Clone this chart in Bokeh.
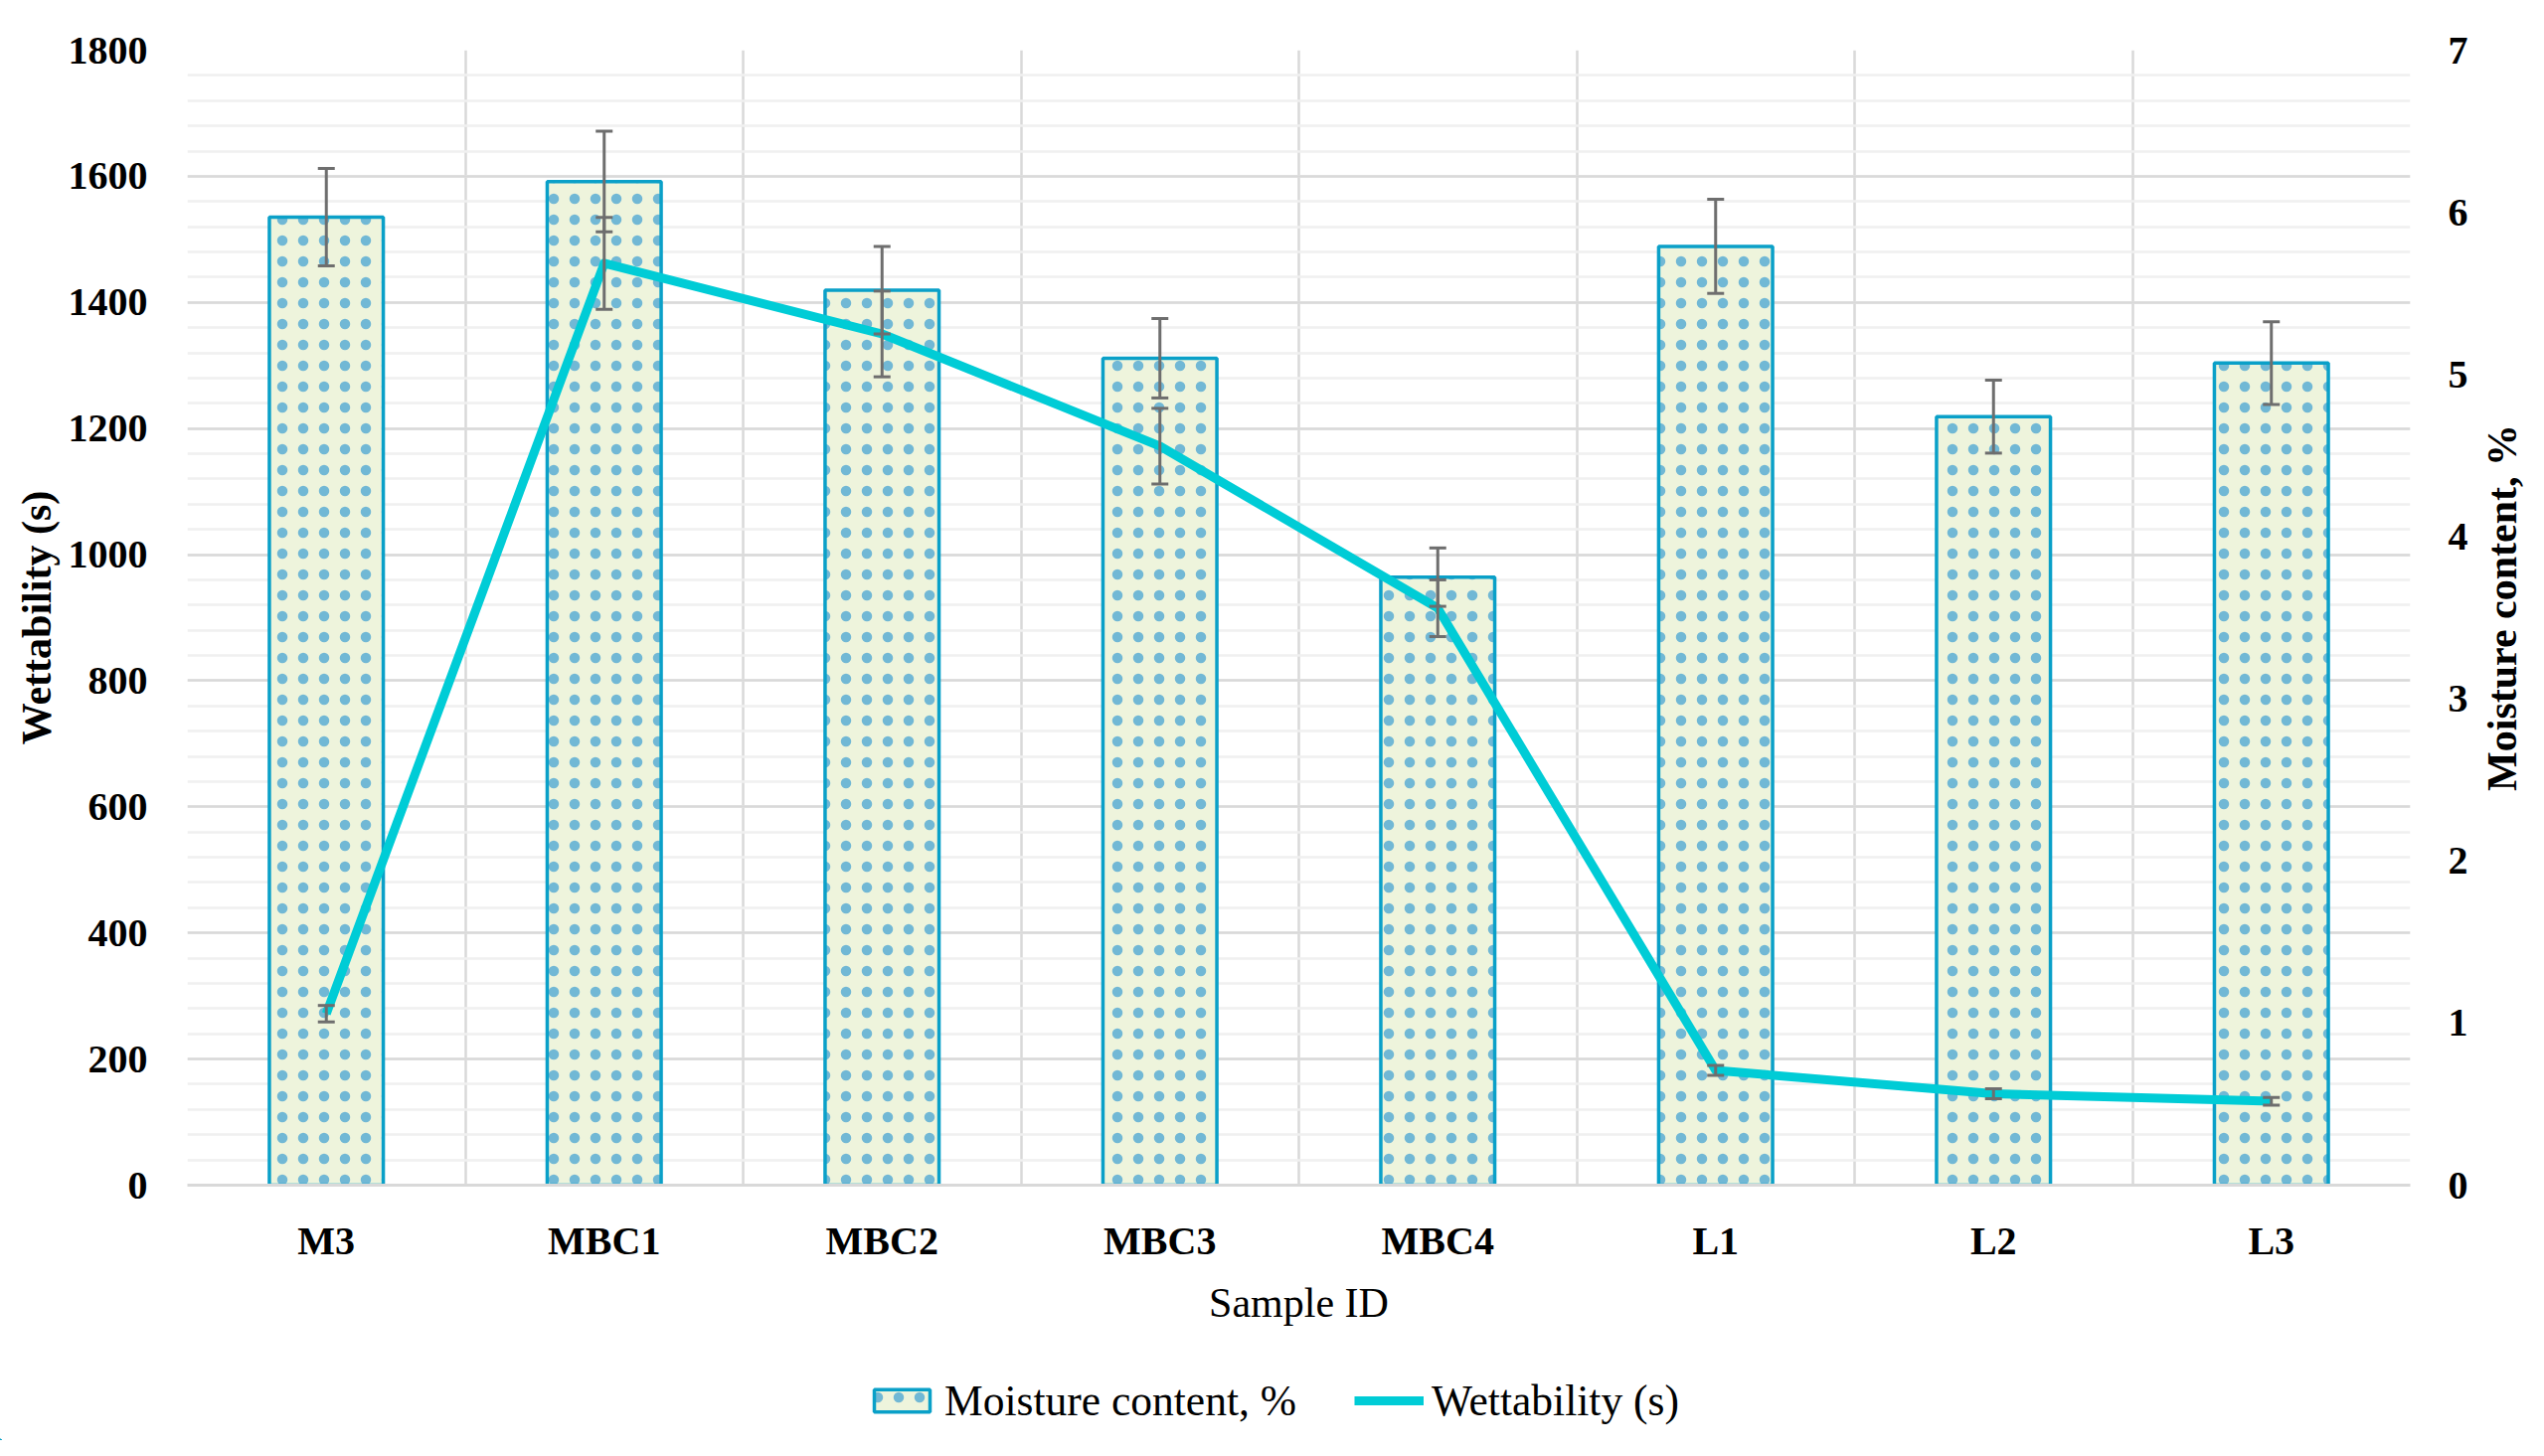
import math
from bokeh.plotting import figure
from bokeh.layouts import row, column
from bokeh.models import (Range1d, LinearAxis, FixedTicker, ColumnDataSource,
                          Whisker, TeeHead, Legend, LegendItem)
from bokeh.core.properties import value
from bokeh.embed import file_html
from bokeh.resources import INLINE

# ---- data ----
categories = ["M3", "MBC1", "MBC2", "MBC3", "MBC4", "L1", "L2", "L3"]
moisture = [5.97, 6.19, 5.52, 5.10, 3.75, 5.79, 4.74, 5.07]          # %, right axis (bars)
moisture_err = [0.30, 0.31, 0.27, 0.245, 0.18, 0.29, 0.225, 0.255]
wettability = [272, 1462, 1350, 1172, 915, 182, 145, 133]            # s, left axis (line)
wettability_err = [13, 73, 68, 60, 45, 8, 8, 6]
wett_ticks = list(range(0, 1801, 200))
wett_minor = list(range(0, 1801, 40))
moist_ticks = list(range(0, 8))
right_title = "Moisture content, %"
legend_labels = ["Moisture content, %", "Wettability (s)"]

FONT = "Liberation Serif"
H_TOP, H_LEG = 1360, 89
W_MAIN, W_SIDE = 2486, 57

BAR_STYLE = dict(fill_color="#EEF4DC", line_color="#0AA0C8", line_width=3.5,
                 hatch_pattern=".", hatch_color="#1E8FD0", hatch_scale=21,
                 hatch_weight=0.6, hatch_alpha=0.6)
LINE_STYLE = dict(line_color="#00CCD6", line_width=9, line_join="round")

p = figure(width=W_MAIN, height=H_TOP, output_backend="svg", toolbar_location=None,
           x_range=Range1d(0, len(categories)), y_range=Range1d(0, 1800),
           min_border_left=188, min_border_right=62,
           min_border_top=50, min_border_bottom=H_TOP - 1192)
p.extra_y_ranges = {"moist": Range1d(0, 7)}
p.outline_line_color = None
p.background_fill_color = "white"
p.border_fill_color = "white"

xs = [i + 0.5 for i in range(len(categories))]

# ---- grids ----
p.yaxis.ticker = FixedTicker(ticks=wett_ticks, minor_ticks=wett_minor)
p.ygrid.grid_line_color = "#d9d9d9"
p.ygrid.grid_line_width = 2.5
p.ygrid.minor_grid_line_color = "#f0f0f0"
p.ygrid.minor_grid_line_width = 2.5
p.xgrid.ticker = FixedTicker(ticks=list(range(0, len(categories) + 1)))
p.xgrid.grid_line_color = "#d9d9d9"
p.xgrid.grid_line_width = 2.5

# ---- axes ----
p.xaxis.ticker = FixedTicker(ticks=xs)
p.xaxis.major_label_overrides = {x: c for x, c in zip(xs, categories)}
p.xaxis.axis_label = "Sample ID"
p.yaxis.axis_label = "Wettability (s)"

ax_r = LinearAxis(y_range_name="moist", ticker=FixedTicker(ticks=moist_ticks))
p.add_layout(ax_r, "right")

for ax in [p.xaxis[0], p.yaxis[0], ax_r]:
    ax.major_tick_line_color = None
    ax.minor_tick_line_color = None
    ax.major_tick_out = 0
    ax.major_tick_in = 0
    ax.minor_tick_out = 0
    ax.minor_tick_in = 0
    ax.major_label_text_font = FONT
    ax.major_label_text_font_size = "40px"
    ax.major_label_text_font_style = "bold"
    ax.major_label_text_color = "black"
    ax.axis_label_text_font = FONT
    ax.axis_label_text_font_size = "42px"
    ax.axis_label_text_font_style = "bold"
    ax.axis_label_text_color = "black"

p.xaxis.axis_label_text_font_style = "normal"
p.xaxis.axis_line_color = "#d9d9d9"
p.xaxis.axis_line_width = 3
p.xaxis.major_label_standoff = 33
p.xaxis.axis_label_standoff = 14
p.yaxis.axis_line_color = None
p.yaxis.major_label_standoff = 40
p.yaxis.axis_label_standoff = 6
ax_r.axis_line_color = None
ax_r.major_label_standoff = 38

# ---- bars (moisture, right axis) ----
bars = p.vbar(x=xs, top=moisture, bottom=0, width=0.41, y_range_name="moist",
              **BAR_STYLE)

# ---- line (wettability, left axis) ----
line = p.line(x=xs, y=wettability, **LINE_STYLE)

# ---- error bars ----
src_m = ColumnDataSource(dict(
    x=xs,
    upper=[m + e for m, e in zip(moisture, moisture_err)],
    lower=[m - e for m, e in zip(moisture, moisture_err)]))
src_w = ColumnDataSource(dict(
    x=xs,
    upper=[w + e for w, e in zip(wettability, wettability_err)],
    lower=[w - e for w, e in zip(wettability, wettability_err)]))

ERR_C = "#6e6e6e"
for src, rname in [(src_m, "moist"), (src_w, "default")]:
    wk = Whisker(source=src, base="x", upper="upper", lower="lower",
                 dimension="height", y_range_name=rname, level="overlay",
                 line_color=ERR_C, line_width=3,
                 upper_head=TeeHead(size=17, line_color=ERR_C, line_width=3),
                 lower_head=TeeHead(size=17, line_color=ERR_C, line_width=3))
    p.add_layout(wk)

# ---- right-hand axis title (reads bottom to top) ----
side = figure(width=W_SIDE, height=H_TOP, output_backend="svg", toolbar_location=None,
              x_range=Range1d(0, W_SIDE), y_range=Range1d(0, H_TOP),
              x_axis_type=None, y_axis_type=None,
              min_border_left=0, min_border_right=0,
              min_border_top=0, min_border_bottom=0)
side.outline_line_color = None
side.grid.visible = False
side.text(x=[30], y=[692], text=[right_title], angle=math.pi / 2,
          text_align="center", text_baseline="middle",
          text_font=value(FONT), text_font_size="42px",
          text_font_style="bold", text_color="black")

# ---- legend strip below the chart (its renderers sit far outside the visible range) ----
W_ALL = W_MAIN + W_SIDE
leg = figure(width=W_ALL, height=H_LEG, output_backend="svg", toolbar_location=None,
             x_range=Range1d(20, 21), y_range=Range1d(5000, 5001),
             x_axis_type=None, y_axis_type=None,
             min_border_left=0, min_border_right=0,
             min_border_top=0, min_border_bottom=0)
leg.outline_line_color = None
leg.grid.visible = False
leg_bar = leg.vbar(x=xs, top=moisture, width=0.41, **BAR_STYLE)
leg_line = leg.line(x=xs, y=wettability, **LINE_STYLE)
legend = Legend(items=[LegendItem(label=legend_labels[0], renderers=[leg_bar]),
                       LegendItem(label=legend_labels[1], renderers=[leg_line])],
                orientation="horizontal", location=(872, 15),
                label_text_font=FONT, label_text_font_size="43.5px",
                label_text_color="black",
                glyph_width=70, glyph_height=28, spacing=58, label_standoff=8,
                padding=0, margin=0, border_line_color=None,
                background_fill_alpha=0)
leg.add_layout(legend)

layout = column(row(p, side, spacing=0), leg, spacing=0)
open("out.html", "w").write(file_html(layout, INLINE))
